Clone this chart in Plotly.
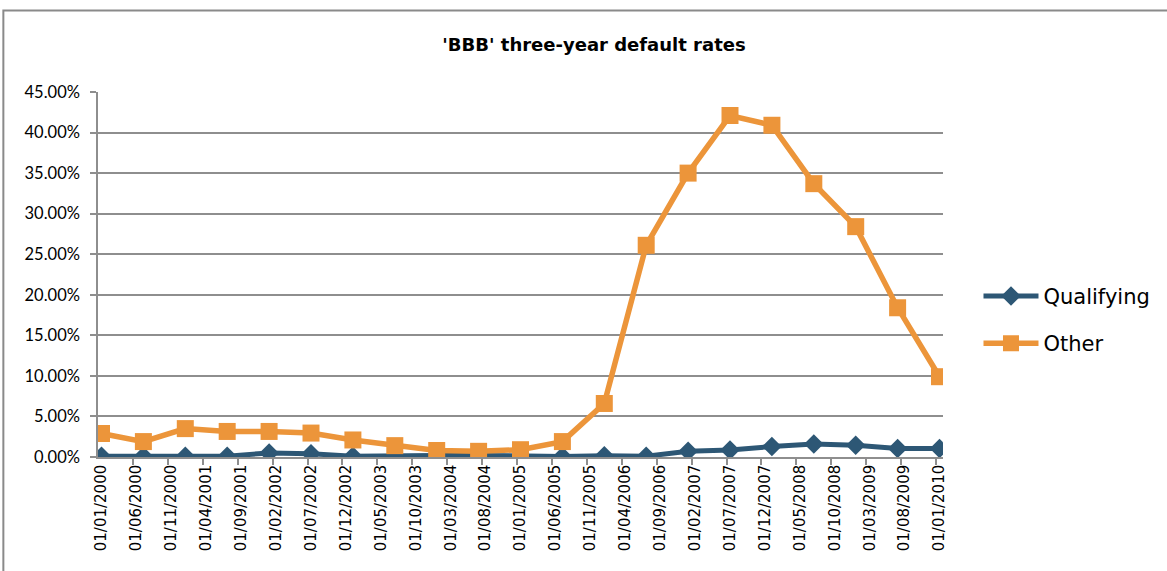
import plotly.graph_objects as go

# --- data ---
obs_dates = [
    "01/01/2000", "01/07/2000", "01/01/2001", "01/07/2001", "01/01/2002",
    "01/07/2002", "01/01/2003", "01/07/2003", "01/01/2004", "01/07/2004",
    "01/01/2005", "01/07/2005", "01/01/2006", "01/07/2006", "01/01/2007",
    "01/07/2007", "01/01/2008", "01/07/2008", "01/01/2009", "01/07/2009",
    "01/01/2010",
]
qualifying = [
    0.0010, 0.0010, 0.0010, 0.0010, 0.0050, 0.0040, 0.0010, 0.0020, 0.0020, 0.0020,
    0.0010, 0.0005, 0.0015, 0.0010, 0.0070, 0.0085, 0.0130, 0.0160, 0.0145, 0.0105,
    0.0105,
]
other = [
    0.029, 0.019, 0.035, 0.0315, 0.0315, 0.0295, 0.021, 0.014, 0.008, 0.007,
    0.009, 0.019, 0.066, 0.261, 0.350, 0.421, 0.409, 0.337, 0.284, 0.184,
    0.099,
]
tick_labels = [
    "01/01/2000", "01/06/2000", "01/11/2000", "01/04/2001", "01/09/2001",
    "01/02/2002", "01/07/2002", "01/12/2002", "01/05/2003", "01/10/2003",
    "01/03/2004", "01/08/2004", "01/01/2005", "01/06/2005", "01/11/2005",
    "01/04/2006", "01/09/2006", "01/02/2007", "01/07/2007", "01/12/2007",
    "01/05/2008", "01/10/2008", "01/03/2009", "01/08/2009", "01/01/2010",
]

BLUE = "#2D5775"
ORANGE = "#EC953A"
GRID = "#8E8E8E"


def month_index(s):
    d, m, y = (int(p) for p in s.split("/"))
    return (y - 2000) * 12 + (m - 1)


x_obs = [month_index(s) for s in obs_dates]
x_ticks = [month_index(s) for s in tick_labels]

fig = go.Figure()
fig.add_trace(go.Scatter(
    x=x_obs, y=qualifying, name="Qualifying", mode="lines+markers",
    line=dict(color=BLUE, width=5),
    marker=dict(symbol="diamond", size=15, color=BLUE),
    legendgroup="q",
))
fig.add_trace(go.Scatter(
    x=x_obs, y=other, name="Other", mode="lines+markers",
    line=dict(color=ORANGE, width=5.5),
    marker=dict(symbol="square", size=17, color=ORANGE),
    legendgroup="o",
))

# outer chart frame
fig.add_shape(type="rect", xref="paper", yref="paper",
              x0=-0.112, x1=1.30, y0=-0.40, y1=1.2234,
              line=dict(color="#8A8A8A", width=2), fillcolor="rgba(0,0,0,0)")

fig.update_layout(
    width=1167, height=571,
    margin=dict(l=98, r=224, t=92, b=114),
    paper_bgcolor="white", plot_bgcolor="white",
    font=dict(family="DejaVu Sans", color="black"),
    title=dict(text="<b>'BBB' three-year default rates</b>",
               x=0.509, xref="container", xanchor="center",
               y=1 - 45 / 571, yref="container", yanchor="middle",
               font=dict(family="DejaVu Sans", size=18, color="black")),
    legend=dict(x=1.042, xanchor="left", y=0.376, yanchor="middle",
                font=dict(family="DejaVu Sans", size=21),
                itemwidth=55, tracegroupgap=17, bgcolor="rgba(0,0,0,0)"),
    showlegend=True,
)

fig.update_xaxes(
    range=[-0.5, 120.5], tickmode="array", tickvals=x_ticks, ticktext=tick_labels,
    tickangle=-90, ticks="", showgrid=False, zeroline=False,
    showline=True, linecolor=GRID, linewidth=1.5,
    tickfont=dict(family="DejaVu Sans", size=15, color="black"),
    minor=dict(tickmode="array", tickvals=[v - 0.5 for v in x_ticks[1:]],
               ticks="outside", ticklen=6, tickcolor=GRID, tickwidth=1.5),
)
fig.update_yaxes(
    range=[0, 0.45], dtick=0.05, tickformat=".2%",
    showgrid=True, gridcolor=GRID, gridwidth=1.5, zeroline=False,
    showline=True, linecolor=GRID, linewidth=1.5,
    ticks="outside", ticklen=6, tickcolor=GRID, tickwidth=1.5,
    ticklabelstandoff=7,
    tickfont=dict(family="Lato", size=16.5, color="black"),
)

fig.write_html("out.html", config={"displayModeBar": False},
               post_script="document.body.style.margin='0px';")
